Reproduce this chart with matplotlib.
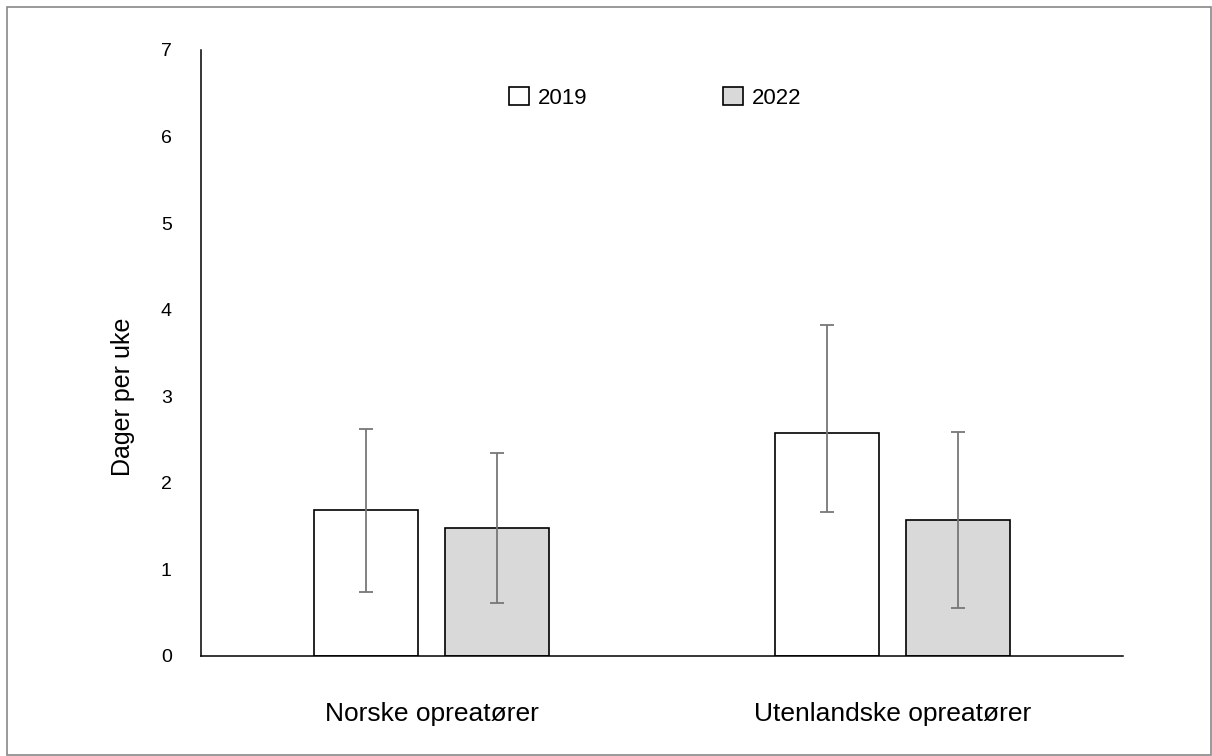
import numpy as np
import matplotlib
matplotlib.use("Agg")
from matplotlib import pyplot as plt
from matplotlib.patches import Rectangle

plt.rcParams['font.family'] = ['Liberation Sans', 'DejaVu Sans']

categories = ['Norske opreatører', 'Utenlandske opreatører']
years = ['2019', '2022']
values_2019 = [1.69, 2.58]
values_2022 = [1.48, 1.57]
upper_2019 = [2.62, 3.82]
lower_2019 = [0.74, 1.66]
upper_2022 = [2.34, 2.59]
lower_2022 = [0.61, 0.55]

fig = plt.figure(figsize=(12.12, 7.56), dpi=100)
ax = fig.add_axes([201 / 1212, 1 - 656 / 756, 922 / 1212, 606 / 756])

x = np.arange(len(categories))
w = 0.226
off = 0.142

err_2019 = [np.array(values_2019) - np.array(lower_2019), np.array(upper_2019) - np.array(values_2019)]
err_2022 = [np.array(values_2022) - np.array(lower_2022), np.array(upper_2022) - np.array(values_2022)]

ekw = dict(ecolor='#777777', elinewidth=1.3, capsize=5, capthick=1.3)
ax.bar(x - off, values_2019, w, color='white', edgecolor='black', linewidth=1.2,
       yerr=err_2019, error_kw=ekw, label=years[0])
ax.bar(x + off, values_2022, w, color='#d9d9d9', edgecolor='black', linewidth=1.2,
       yerr=err_2022, error_kw=ekw, label=years[1])

ax.set_xlim(-0.5, 1.5)
ax.set_ylim(0, 7)
ax.set_xticks(x)
ax.set_xticklabels(categories, fontsize=19)
ax.set_yticks(range(8))
ax.tick_params(axis='x', length=0, pad=33)
ax.tick_params(axis='y', length=0, pad=21, labelsize=14)
for s in ['top', 'right']:
    ax.spines[s].set_visible(False)
ax.spines['left'].set_linewidth(1.1)
ax.spines['bottom'].set_linewidth(1.1)

ax.set_ylabel('Dager per uke', fontsize=18)
ax.yaxis.set_label_coords(-0.072, 0.427)

ax.legend(loc='center', bbox_to_anchor=(0.493, 0.921), ncol=2, frameon=False,
          fontsize=16, handlelength=0.9, handleheight=0.9, handletextpad=0.4,
          columnspacing=6.1)

fig.patches.append(Rectangle((7 / 1212, 1 / 756), 1204 / 1212, 748 / 756,
                             transform=fig.transFigure, fill=False,
                             edgecolor='#888888', linewidth=1.2))

fig.savefig('out.png', dpi=100)
